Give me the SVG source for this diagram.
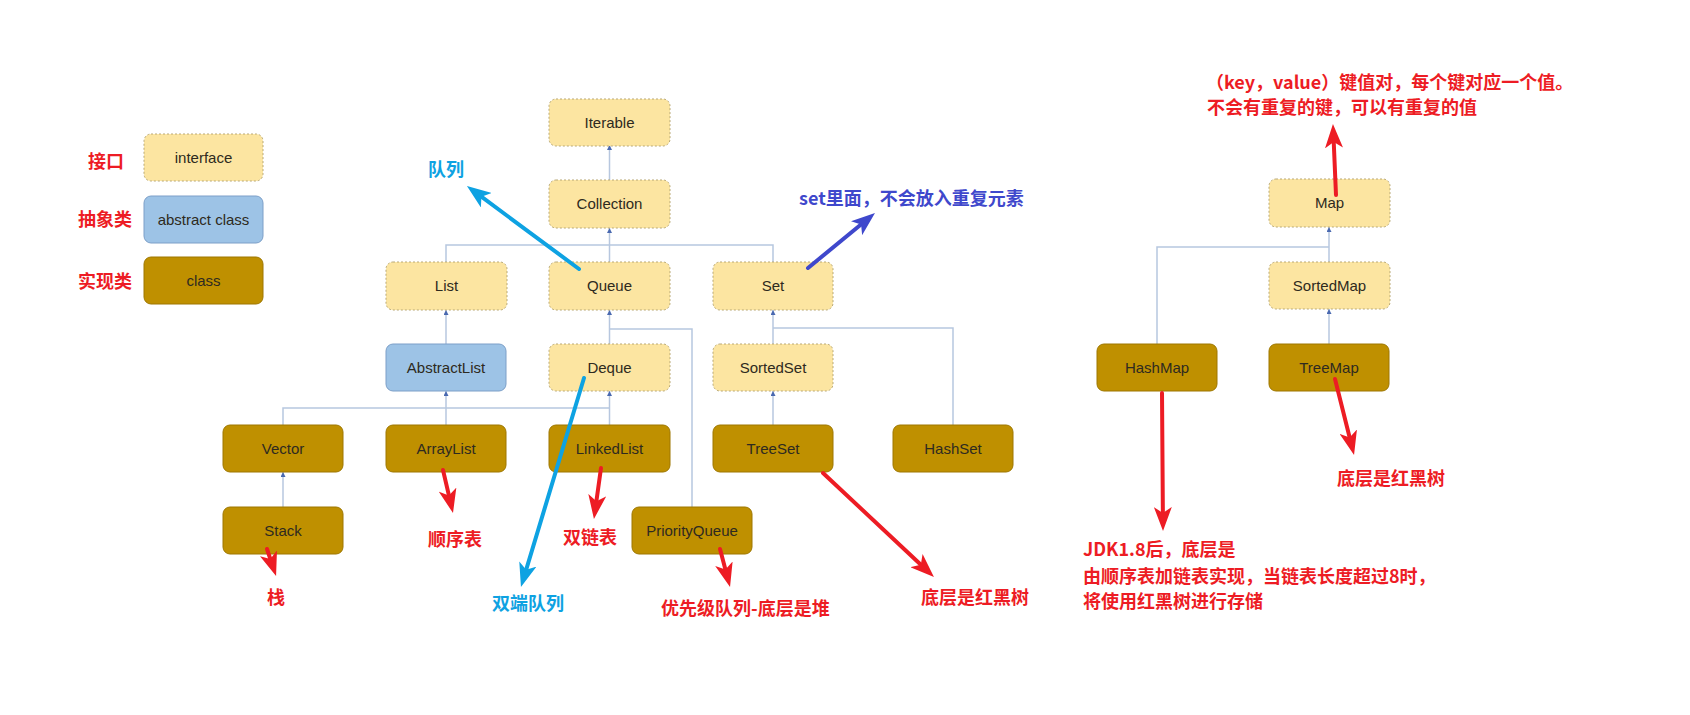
<svg xmlns="http://www.w3.org/2000/svg" width="1690" height="715" viewBox="0 0 1690 715">
<style>
.iface{fill:#fce5a1;stroke:#b9a977;stroke-width:1;stroke-dasharray:2 2}
.abs{fill:#9dc3e6;stroke:#7c9fc8;stroke-width:1}
.cls{fill:#bf9000;stroke:#9e7700;stroke-width:1}
.nt{font-family:"Liberation Sans",Arial,sans-serif;font-size:15px;fill:#2e2a20;text-anchor:middle}
.conn{fill:none;stroke:#b7c7df;stroke-width:1.5}
.lbl{font-family:"Noto Sans CJK SC",sans-serif;font-size:18px;font-weight:bold}
.red{fill:#ed1c24}
.cyan{fill:#0ea2e2}
.blue{fill:#3f48cc}
.ar{fill:none;stroke-width:4;stroke-linecap:round}
</style>
<defs>
<marker id="tri" viewBox="0 0 6 6" refX="6" refY="3" markerWidth="5" markerHeight="5" markerUnits="userSpaceOnUse" orient="auto"><path d="M0,0 L6,3 L0,6 z" fill="#4a69b0"/></marker>
<marker id="hRed" viewBox="0 0 24 18" refX="9" refY="9" markerWidth="24" markerHeight="18" markerUnits="userSpaceOnUse" orient="auto"><path d="M0,0 L24,9 L0,18 L6,9 z" fill="#ed1c24"/></marker>
<marker id="hCyan" viewBox="0 0 24 18" refX="9" refY="9" markerWidth="24" markerHeight="18" markerUnits="userSpaceOnUse" orient="auto"><path d="M0,0 L24,9 L0,18 L6,9 z" fill="#0ea2e2"/></marker>
<marker id="hBlue" viewBox="0 0 24 18" refX="9" refY="9" markerWidth="24" markerHeight="18" markerUnits="userSpaceOnUse" orient="auto"><path d="M0,0 L24,9 L0,18 L6,9 z" fill="#3f48cc"/></marker>
</defs>
<rect width="1690" height="715" fill="#ffffff"/>

<g id="connectors">
<path class="conn" d="M609.5,180 V145" marker-end="url(#tri)"/>
<path class="conn" d="M609.5,262 V228" marker-end="url(#tri)"/>
<path class="conn" d="M446,262 V245 H773 V262"/>
<path class="conn" d="M446,344 V310" marker-end="url(#tri)"/>
<path class="conn" d="M609.5,344 V310" marker-end="url(#tri)"/>
<path class="conn" d="M692,507 V329 H609.5"/>
<path class="conn" d="M773,344 V310" marker-end="url(#tri)"/>
<path class="conn" d="M953,425 V328 H773"/>
<path class="conn" d="M446,425 V391" marker-end="url(#tri)"/>
<path class="conn" d="M283,425 V408 H609.5"/>
<path class="conn" d="M609.5,425 V391" marker-end="url(#tri)"/>
<path class="conn" d="M283,507 V472" marker-end="url(#tri)"/>
<path class="conn" d="M773,425 V391" marker-end="url(#tri)"/>
<path class="conn" d="M1329,262 V227" marker-end="url(#tri)"/>
<path class="conn" d="M1157,344 V247 H1329"/>
<path class="conn" d="M1329,344 V309" marker-end="url(#tri)"/>
</g>

<g id="legend">
<g id="legend-interface"><rect class="iface" x="144" y="134" width="119" height="47" rx="7"/><text class="nt" x="203.5" y="163">interface</text></g>
<g id="legend-abstract"><rect class="abs" x="144" y="196" width="119" height="47" rx="7"/><text class="nt" x="203.5" y="225">abstract class</text></g>
<g id="legend-class"><rect class="cls" x="144" y="257" width="119" height="47" rx="7"/><text class="nt" x="203.5" y="286">class</text></g>
<text class="lbl red" x="106" y="168" text-anchor="middle">接口</text>
<text class="lbl red" x="105" y="226" text-anchor="middle">抽象类</text>
<text class="lbl red" x="105" y="288" text-anchor="middle">实现类</text>
</g>

<g id="n-iterable"><rect class="iface" x="549" y="99" width="121" height="47" rx="7"/><text class="nt" x="609.5" y="128">Iterable</text></g>
<g id="n-collection"><rect class="iface" x="549" y="180" width="121" height="48" rx="7"/><text class="nt" x="609.5" y="209">Collection</text></g>
<g id="n-list"><rect class="iface" x="386" y="262" width="121" height="48" rx="7"/><text class="nt" x="446.5" y="291">List</text></g>
<g id="n-queue"><rect class="iface" x="549" y="262" width="121" height="48" rx="7"/><text class="nt" x="609.5" y="291">Queue</text></g>
<g id="n-set"><rect class="iface" x="713" y="262" width="120" height="48" rx="7"/><text class="nt" x="773" y="291">Set</text></g>
<g id="n-abstractlist"><rect class="abs" x="386" y="344" width="120" height="47" rx="7"/><text class="nt" x="446" y="373">AbstractList</text></g>
<g id="n-deque"><rect class="iface" x="549" y="344" width="121" height="47" rx="7"/><text class="nt" x="609.5" y="373">Deque</text></g>
<g id="n-sortedset"><rect class="iface" x="713" y="344" width="120" height="47" rx="7"/><text class="nt" x="773" y="373">SortedSet</text></g>
<g id="n-vector"><rect class="cls" x="223" y="425" width="120" height="47" rx="7"/><text class="nt" x="283" y="454">Vector</text></g>
<g id="n-arraylist"><rect class="cls" x="386" y="425" width="120" height="47" rx="7"/><text class="nt" x="446" y="454">ArrayList</text></g>
<g id="n-linkedlist"><rect class="cls" x="549" y="425" width="121" height="47" rx="7"/><text class="nt" x="609.5" y="454">LinkedList</text></g>
<g id="n-treeset"><rect class="cls" x="713" y="425" width="120" height="47" rx="7"/><text class="nt" x="773" y="454">TreeSet</text></g>
<g id="n-hashset"><rect class="cls" x="893" y="425" width="120" height="47" rx="7"/><text class="nt" x="953" y="454">HashSet</text></g>
<g id="n-stack"><rect class="cls" x="223" y="507" width="120" height="47" rx="7"/><text class="nt" x="283" y="536">Stack</text></g>
<g id="n-priorityqueue"><rect class="cls" x="632" y="507" width="120" height="47" rx="7"/><text class="nt" x="692" y="536">PriorityQueue</text></g>
<g id="n-map"><rect class="iface" x="1269" y="179" width="121" height="48" rx="7"/><text class="nt" x="1329.5" y="208">Map</text></g>
<g id="n-sortedmap"><rect class="iface" x="1269" y="262" width="121" height="47" rx="7"/><text class="nt" x="1329.5" y="291">SortedMap</text></g>
<g id="n-hashmap"><rect class="cls" x="1097" y="344" width="120" height="47" rx="7"/><text class="nt" x="1157" y="373">HashMap</text></g>
<g id="n-treemap"><rect class="cls" x="1269" y="344" width="120" height="47" rx="7"/><text class="nt" x="1329" y="373">TreeMap</text></g>

<g id="annotations">
<line class="ar" x1="579" y1="269" x2="479" y2="194.9" stroke="#0ea2e2" marker-end="url(#hCyan)"/>
<line class="ar" x1="808" y1="268" x2="863.4" y2="222.5" stroke="#3f48cc" marker-end="url(#hBlue)"/>
<line class="ar" x1="584" y1="378" x2="525.3" y2="572.6" stroke="#0ea2e2" marker-end="url(#hCyan)"/>
<line class="ar" x1="267" y1="549" x2="271.3" y2="561.8" stroke="#ed1c24" marker-end="url(#hRed)"/>
<line class="ar" x1="443" y1="470" x2="449.6" y2="498.4" stroke="#ed1c24" marker-end="url(#hRed)"/>
<line class="ar" x1="601" y1="468" x2="596" y2="504.1" stroke="#ed1c24" marker-end="url(#hRed)"/>
<line class="ar" x1="720" y1="549" x2="726.2" y2="572.5" stroke="#ed1c24" marker-end="url(#hRed)"/>
<line class="ar" x1="823" y1="473" x2="923" y2="566.7" stroke="#ed1c24" marker-end="url(#hRed)"/>
<line class="ar" x1="1336" y1="195" x2="1333.6" y2="139" stroke="#ed1c24" marker-end="url(#hRed)"/>
<line class="ar" x1="1162" y1="393" x2="1162.9" y2="516" stroke="#ed1c24" marker-end="url(#hRed)"/>
<line class="ar" x1="1335" y1="379" x2="1350.4" y2="440.4" stroke="#ed1c24" marker-end="url(#hRed)"/>

<text class="lbl cyan" x="428" y="176">队列</text>
<text class="lbl blue" x="799" y="205">set里面，不会放入重复元素</text>
<text class="lbl red" x="276" y="604" text-anchor="middle">栈</text>
<text class="lbl red" x="428" y="546">顺序表</text>
<text class="lbl red" x="563" y="544">双链表</text>
<text class="lbl cyan" x="492" y="610">双端队列</text>
<text class="lbl red" x="661" y="615">优先级队列-底层是堆</text>
<text class="lbl red" x="921" y="604">底层是红黑树</text>
<text class="lbl red" x="1206" y="89">（key，value）键值对，每个键对应一个值。</text>
<text class="lbl red" x="1207" y="114">不会有重复的键，可以有重复的值</text>
<text class="lbl red" x="1337" y="485">底层是红黑树</text>
<text class="lbl red" x="1083" y="556">JDK1.8后，底层是</text>
<text class="lbl red" x="1083" y="583">由顺序表加链表实现，当链表长度超过8时，</text>
<text class="lbl red" x="1083" y="608">将使用红黑树进行存储</text>
</g>
</svg>
